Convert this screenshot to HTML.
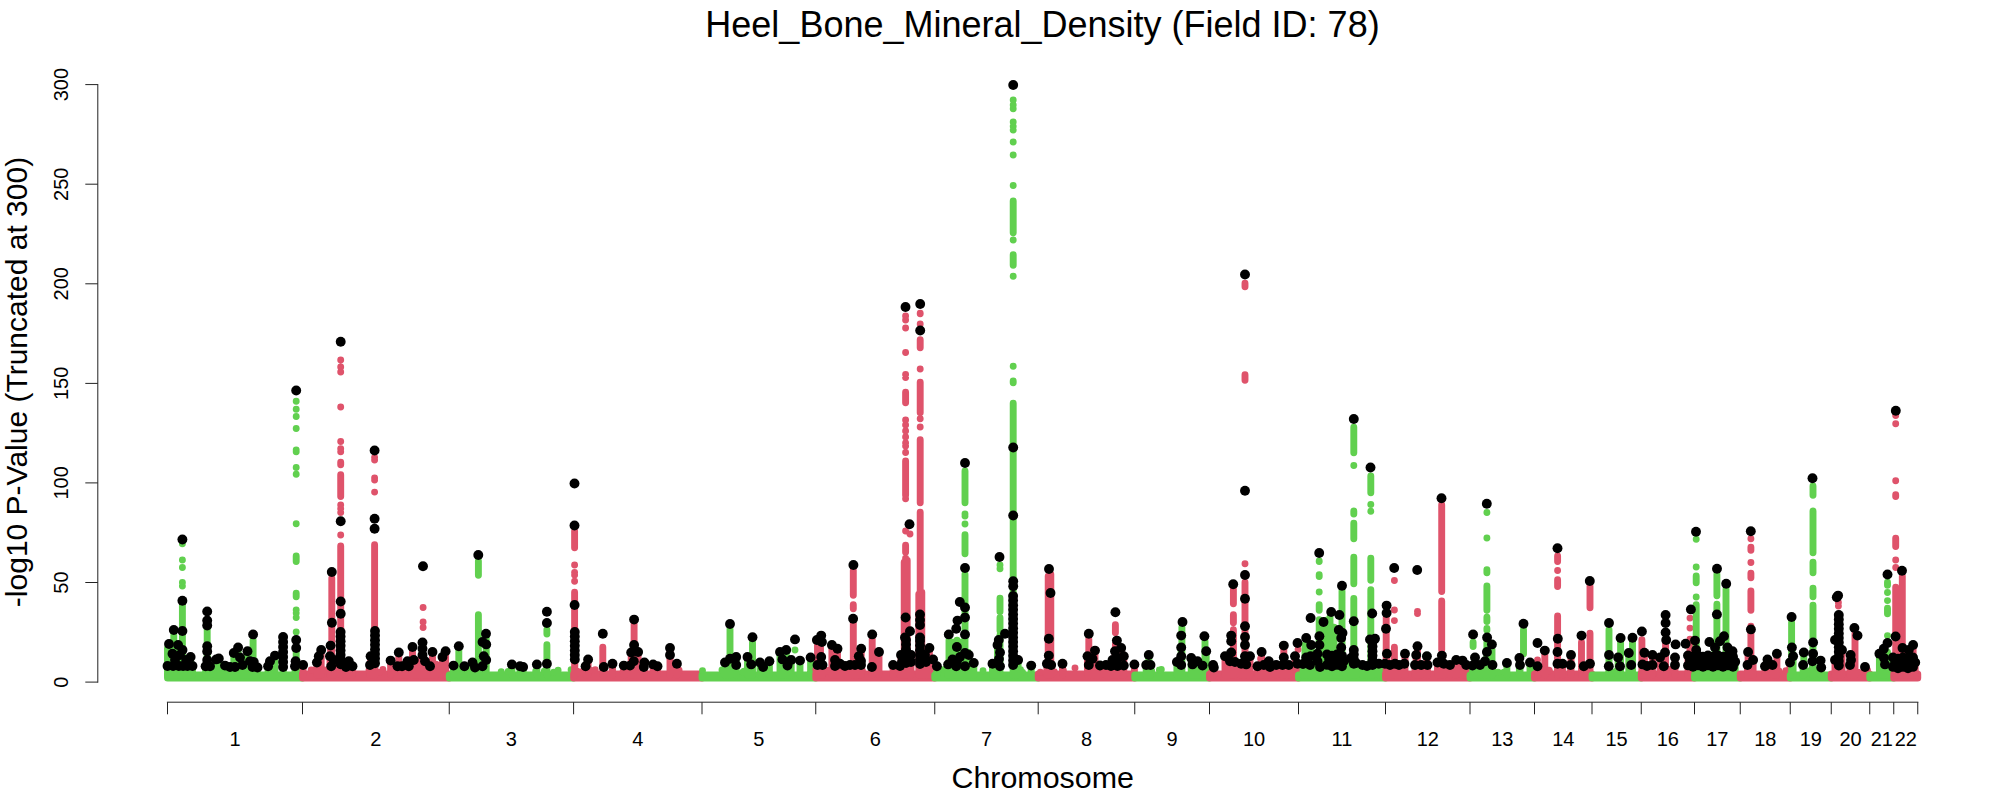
<!DOCTYPE html><html><head><meta charset="utf-8"><title>Manhattan</title>
<style>html,body{margin:0;padding:0;background:#fff}svg{display:block}text{font-family:"Liberation Sans",Arial,Helvetica,sans-serif;fill:#000}</style></head><body>
<svg width="2000" height="800" viewBox="0 0 2000 800">
<rect width="2000" height="800" fill="#fff"/>
<text x="1042.5" y="36.5" font-size="36" text-anchor="middle">Heel_Bone_Mineral_Density (Field ID: 78)</text>
<text x="1042.7" y="787.6" font-size="30.4" text-anchor="middle">Chromosome</text>
<text transform="translate(27.3,382) rotate(-90)" font-size="30" text-anchor="middle">-log10 P-Value (Truncated at 300)</text>
<g stroke="#222" stroke-width="1" fill="none" stroke-linecap="butt">
<path d="M97.8 84.0V682.7"/>
<path d="M85.3 682.1H97.8"/>
<path d="M85.3 582.5H97.8"/>
<path d="M85.3 482.9H97.8"/>
<path d="M85.3 383.4H97.8"/>
<path d="M85.3 283.8H97.8"/>
<path d="M85.3 184.2H97.8"/>
<path d="M85.3 84.6H97.8"/>
<path d="M166.90 702.2H1918.35"/>
<path d="M167.50 702.2V714.3"/>
<path d="M302.50 702.2V714.3"/>
<path d="M449.25 702.2V714.3"/>
<path d="M573.60 702.2V714.3"/>
<path d="M702.00 702.2V714.3"/>
<path d="M815.75 702.2V714.3"/>
<path d="M934.75 702.2V714.3"/>
<path d="M1038.20 702.2V714.3"/>
<path d="M1134.75 702.2V714.3"/>
<path d="M1209.50 702.2V714.3"/>
<path d="M1298.50 702.2V714.3"/>
<path d="M1385.50 702.2V714.3"/>
<path d="M1470.00 702.2V714.3"/>
<path d="M1534.50 702.2V714.3"/>
<path d="M1592.00 702.2V714.3"/>
<path d="M1641.25 702.2V714.3"/>
<path d="M1694.50 702.2V714.3"/>
<path d="M1740.25 702.2V714.3"/>
<path d="M1790.25 702.2V714.3"/>
<path d="M1831.25 702.2V714.3"/>
<path d="M1869.75 702.2V714.3"/>
<path d="M1893.75 702.2V714.3"/>
<path d="M1917.75 702.2V714.3"/>
</g>
<text transform="translate(68.0,682.1) rotate(-90)" font-size="20" text-anchor="middle">0</text>
<text transform="translate(68.0,582.5) rotate(-90)" font-size="20" text-anchor="middle">50</text>
<text transform="translate(68.0,482.9) rotate(-90)" font-size="20" text-anchor="middle">100</text>
<text transform="translate(68.0,383.4) rotate(-90)" font-size="20" text-anchor="middle">150</text>
<text transform="translate(68.0,283.8) rotate(-90)" font-size="20" text-anchor="middle">200</text>
<text transform="translate(68.0,184.2) rotate(-90)" font-size="20" text-anchor="middle">250</text>
<text transform="translate(68.0,84.6) rotate(-90)" font-size="20" text-anchor="middle">300</text>
<text x="235.00" y="745.5" font-size="20" text-anchor="middle">1</text>
<text x="375.88" y="745.5" font-size="20" text-anchor="middle">2</text>
<text x="511.43" y="745.5" font-size="20" text-anchor="middle">3</text>
<text x="637.80" y="745.5" font-size="20" text-anchor="middle">4</text>
<text x="758.88" y="745.5" font-size="20" text-anchor="middle">5</text>
<text x="875.25" y="745.5" font-size="20" text-anchor="middle">6</text>
<text x="986.48" y="745.5" font-size="20" text-anchor="middle">7</text>
<text x="1086.47" y="745.5" font-size="20" text-anchor="middle">8</text>
<text x="1172.12" y="745.5" font-size="20" text-anchor="middle">9</text>
<text x="1254.00" y="745.5" font-size="20" text-anchor="middle">10</text>
<text x="1342.00" y="745.5" font-size="20" text-anchor="middle">11</text>
<text x="1427.75" y="745.5" font-size="20" text-anchor="middle">12</text>
<text x="1502.25" y="745.5" font-size="20" text-anchor="middle">13</text>
<text x="1563.25" y="745.5" font-size="20" text-anchor="middle">14</text>
<text x="1616.62" y="745.5" font-size="20" text-anchor="middle">15</text>
<text x="1667.88" y="745.5" font-size="20" text-anchor="middle">16</text>
<text x="1717.38" y="745.5" font-size="20" text-anchor="middle">17</text>
<text x="1765.25" y="745.5" font-size="20" text-anchor="middle">18</text>
<text x="1810.75" y="745.5" font-size="20" text-anchor="middle">19</text>
<text x="1850.50" y="745.5" font-size="20" text-anchor="middle">20</text>
<text x="1881.75" y="745.5" font-size="20" text-anchor="middle">21</text>
<text x="1905.75" y="745.5" font-size="20" text-anchor="middle">22</text>
<g fill="#61D04F" stroke="#61D04F" stroke-width="6.9" stroke-linecap="round">
<rect x="164.05" y="671.4" width="141.90" height="10.2" rx="3.6" stroke="none"/>
<path fill="none" d="M167.5 648.2V675.0M173.8 635.2V675.0M182.4 543.8h0M182.4 560.0h0M182.4 567.5h0M182.4 582.5h0M182.4 586.0h0M182.4 605.2V675.0M207.2 629.2V675.0M236.0 662.2V675.0M253.1 640.2V675.0M296.2 401.2h0M296.2 409.2h0M296.2 416.5h0M296.2 428.5h0M296.2 450.0h0M296.2 451.8h0M296.2 467.5h0M296.2 474.2h0M296.2 523.8h0M296.2 556.0V561.5M296.2 593.2V596.8M296.2 610.0h0M296.2 613.0h0M296.2 617.5h0M296.2 632.0h0M296.2 653.2V657.8M178.1 646.0V675M182.5 651.0V675M172.5 654.8V675M180.0 656.0V675M190.6 658.0V675M186.2 661.0V675M175.0 661.0V675M167.5 667.0V675M173.1 667.0V675M178.8 667.0V675M183.1 667.0V675M187.5 667.0V675M192.5 667.0V675M207.2 647.2V675M207.2 652.5V675M207.2 661.0V675M205.6 667.2V675M210.0 667.2V675M218.8 659.5V675M216.2 660.4V675M225.0 666.6V675M230.0 668.0V675M235.0 668.0V675M238.1 648.5V675M233.8 654.0V675M247.5 652.2V675M240.0 658.5V675M242.5 666.0V675M250.0 662.2V675M253.8 663.0V675M252.5 668.0V675M257.5 668.5V675M268.1 667.2V675M270.0 662.2V675M275.0 656.6V675M296.2 649.0V675M295.6 662.2V675M295.0 667.2V675M283.1 648.0V675M283.1 653.0V675M283.1 658.0V675M283.1 663.0V675M283.1 668.0V675M211.2 669.8h0M255.4 669.5h0M239.8 670.5h0M175.3 670.9h0M172.6 670.7h0M176.9 669.6h0M224.8 671.9h0M184.2 670.0h0M252.2 672.3h0M245.4 670.6h0M299.3 669.4h0M283.4 670.2h0"/>
</g>
<g fill="#DF536B" stroke="#DF536B" stroke-width="6.9" stroke-linecap="round">
<rect x="299.05" y="670.5" width="153.65" height="11.1" rx="3.6" stroke="none"/>
<path fill="none" d="M331.8 578.2V675.0M340.7 360.0h0M340.7 367.0h0M340.7 372.0h0M340.7 407.0h0M340.7 441.5h0M340.7 448.8h0M340.7 451.8h0M340.7 462.2V464.8M340.7 474.7V496.6M340.7 505.0h0M340.7 508.8h0M340.7 512.5h0M340.7 535.0h0M340.7 546.0V675.0M374.6 457.5h0M374.6 460.0h0M374.6 478.0h0M374.6 480.0h0M374.6 492.1h0M374.6 544.7V675.0M423.1 607.5h0M423.1 621.9h0M423.1 627.5h0M405.0 664.2V675.0M409.0 662.2V675.0M416.0 662.2V675.0M419.0 660.2V675.0M427.0 662.2V675.0M436.0 664.2V675.0M412.5 651.2V675.0M422.5 647.2V675.0M432.5 656.2V675.0M442.5 661.2V675.0M303.1 666.0V675M330.6 646.6V675M321.2 651.0V675M318.8 657.2V675M316.9 663.5V675M330.0 657.2V675M333.8 661.0V675M331.2 667.2V675M348.8 662.2V675M352.5 667.2V675M346.0 668.0V675M370.6 657.2V675M370.0 666.0V675M398.8 653.5V675M390.6 661.6V675M397.5 667.2V675M412.5 648.0V675M422.5 649.8V675M422.5 656.0V675M432.5 653.0V675M407.5 662.2V675M413.8 661.0V675M425.0 662.2V675M430.0 667.2V675M402.0 667.2V675M408.8 667.2V675M445.6 652.2V675M442.5 658.0V675M340.6 646.8V675M340.6 651.4V675M340.6 656.0V675M340.6 660.6V675M340.6 665.2V675M375.0 650.4V675M375.0 655.0V675M375.0 659.6V675M375.0 664.2V675M323.7 669.7h0M347.8 671.9h0M329.0 671.2h0M396.3 670.5h0M382.9 669.5h0M311.2 670.0h0M402.3 670.7h0M348.6 671.2h0M369.0 670.3h0M419.1 671.5h0M338.3 671.1h0M379.6 672.1h0M409.5 670.2h0"/>
</g>
<g fill="#61D04F" stroke="#61D04F" stroke-width="6.9" stroke-linecap="round">
<rect x="445.80" y="671.4" width="131.25" height="10.2" rx="3.6" stroke="none"/>
<path fill="none" d="M458.8 651.2V675.0M478.4 561.0V575.3M478.4 614.7V675.0M486.2 638.2V675.0M546.9 629.7V634.0M546.9 644.7V660.3M458.8 647.2V675M453.5 666.6V675M464.4 667.2V675M472.5 663.5V675M475.0 668.5V675M482.5 667.2V675M483.8 657.2V675M486.2 661.0V675M511.9 665.4V675M520.0 667.2V675M523.1 668.0V675M536.9 665.4V675M546.9 664.8V675M571.1 669.7h0M501.2 671.7h0M468.1 670.9h0M454.1 671.4h0M544.3 671.1h0M558.1 670.3h0M535.7 671.2h0M521.4 670.8h0M553.7 672.3h0M508.2 671.4h0M456.8 671.5h0"/>
</g>
<g fill="#DF536B" stroke="#DF536B" stroke-width="6.9" stroke-linecap="round">
<rect x="570.15" y="670.5" width="135.30" height="11.1" rx="3.6" stroke="none"/>
<path fill="none" d="M574.6 531.0V547.8M574.6 565.0h0M574.6 572.5h0M574.6 575.0h0M574.6 581.2h0M574.6 592.2V675.0M602.8 647.2V675.0M634.1 624.2V675.0M670.0 659.2V675.0M588.1 660.4V675M585.6 667.2V675M603.8 668.0V675M612.5 664.8V675M623.8 666.6V675M634.1 646.0V675M631.2 653.5V675M638.1 653.0V675M633.8 662.2V675M644.4 663.5V675M643.8 668.0V675M630.0 666.6V675M653.1 665.4V675M657.5 667.2V675M670.0 649.0V675M670.0 656.0V675M676.9 664.8V675M574.8 646.8V675M574.8 651.4V675M574.8 656.0V675M574.8 660.6V675M656.7 672.5h0M679.1 670.2h0M623.1 671.4h0M576.5 670.8h0M595.2 669.7h0M581.2 671.8h0M590.2 670.1h0M623.8 672.1h0M583.9 670.7h0M644.1 672.1h0M678.8 672.1h0"/>
</g>
<g fill="#61D04F" stroke="#61D04F" stroke-width="6.9" stroke-linecap="round">
<rect x="698.55" y="671.4" width="120.65" height="10.2" rx="3.6" stroke="none"/>
<path fill="none" d="M730.0 629.2V675.0M752.5 642.2V675.0M780.0 657.2V675.0M786.0 655.2V675.0M795.0 650.0h0M725.0 663.5V675M730.0 659.8V675M736.2 658.0V675M736.2 666.0V675M747.5 658.0V675M751.2 665.4V675M760.0 663.5V675M763.1 668.0V675M769.4 662.2V675M780.0 653.0V675M786.2 651.0V675M782.5 660.4V675M787.5 666.6V675M791.2 661.0V675M800.0 661.6V675M810.6 658.5V675M733.7 670.6h0M742.8 672.1h0M810.9 669.8h0M722.0 670.0h0M728.5 670.9h0M769.0 670.1h0M702.5 670.6h0M744.0 671.1h0M810.4 671.5h0M760.6 671.3h0"/>
</g>
<g fill="#DF536B" stroke="#DF536B" stroke-width="6.9" stroke-linecap="round">
<rect x="812.30" y="670.5" width="125.90" height="11.1" rx="3.6" stroke="none"/>
<path fill="none" d="M817.5 645.2V675.0M820.5 642.2V675.0M832.0 650.2V675.0M837.5 653.2V675.0M853.3 570.2V595.3M853.3 604.7V608.8M853.3 623.2V675.0M861.0 653.2V675.0M872.2 639.2V675.0M879.0 656.2V675.0M905.6 316.0h0M905.6 320.0h0M905.6 328.0h0M905.6 352.5h0M905.6 374.5h0M905.6 377.5h0M905.6 392.2V402.8M905.6 420.0h0M905.6 425.0h0M905.6 431.0h0M905.6 437.0h0M905.6 443.0h0M905.6 446.0h0M905.6 452.5h0M905.6 460.9V495.3M905.6 498.8h0M905.6 531.0h0M905.6 545.2V552.3M905.6 558.2V675.0M910.0 534.0h0M904.2 562.2V675.0M907.2 560.2V675.0M920.2 313.2V313.8M920.2 324.0h0M920.2 339.7V347.8M920.2 369.0h0M920.2 382.2V412.8M920.2 418.8h0M920.2 427.0h0M920.2 439.7V502.8M920.2 512.2V675.0M918.8 594.2V675.0M921.8 592.2V675.0M831.9 646.0V675M837.5 649.8V675M821.2 658.0V675M817.5 666.0V675M822.5 666.0V675M835.0 661.0V675M840.0 664.8V675M835.0 667.0V675M845.0 667.0V675M850.0 666.0V675M855.0 666.0V675M861.0 666.0V675M861.2 649.8V675M858.8 657.2V675M861.0 662.0V675M879.0 653.0V675M871.9 668.0V675M893.1 666.0V675M900.0 667.0V675M901.0 656.0V675M902.0 663.0V675M911.0 656.0V675M911.0 663.0V675M929.4 649.0V675M933.1 660.4V675M925.0 656.0V675M926.0 663.0V675M906.0 650.2V675M906.0 654.8V675M906.0 659.4V675M906.0 664.0V675M920.0 646.6V675M920.0 651.2V675M920.0 655.8V675M920.0 660.4V675M920.0 665.0V675M896.2 669.5h0M922.8 671.8h0M919.8 671.9h0M862.4 670.6h0M828.1 671.3h0M823.2 669.5h0M840.6 669.8h0M856.2 669.5h0M815.8 669.8h0M827.8 670.5h0"/>
</g>
<g fill="#61D04F" stroke="#61D04F" stroke-width="6.9" stroke-linecap="round">
<rect x="931.30" y="671.4" width="110.35" height="10.2" rx="3.6" stroke="none"/>
<path fill="none" d="M949.0 640.2V675.0M953.0 642.2V675.0M957.0 640.2V675.0M961.0 642.2V675.0M968.0 652.2V675.0M965.0 470.9V502.8M965.0 514.0h0M965.0 516.0h0M965.0 524.0h0M965.0 534.7V553.8M965.0 574.2V675.0M1000.0 565.0h0M1000.0 568.8h0M1000.0 598.2V611.8M1000.0 617.7V630.8M1000.0 635.2V675.0M1013.2 100.0h0M1013.2 105.0h0M1013.2 108.8h0M1013.2 122.0h0M1013.2 126.2h0M1013.2 130.0h0M1013.2 142.0h0M1013.2 155.0h0M1013.2 185.5h0M1013.2 200.9V232.8M1013.2 240.0h0M1013.2 254.7V265.3M1013.2 276.2h0M1013.2 366.2h0M1013.2 380.9V382.8M1013.2 403.2V675.0M936.9 667.2V675M956.9 648.0V675M965.0 654.0V675M968.8 656.0V675M952.5 660.4V675M948.1 665.4V675M956.2 667.2V675M965.0 667.2V675M973.8 664.0V675M960.0 658.0V675M957.0 662.0V675M997.5 646.0V675M1000.0 653.5V675M992.5 664.8V675M1000.0 667.2V675M999.0 660.0V675M1018.1 661.0V675M1031.2 666.6V675M1013.1 647.6V675M1013.1 652.2V675M1013.1 656.8V675M1013.1 661.4V675M1013.1 666.0V675M937.4 672.1h0M998.3 669.8h0M960.8 670.4h0M972.4 669.7h0M1022.6 672.5h0M983.0 670.8h0M943.6 669.6h0M970.2 670.1h0M1020.5 669.8h0"/>
</g>
<g fill="#DF536B" stroke="#DF536B" stroke-width="6.9" stroke-linecap="round">
<rect x="1034.75" y="670.5" width="103.45" height="11.1" rx="3.6" stroke="none"/>
<path fill="none" d="M1048.2 576.2V675.0M1050.8 574.2V675.0M1088.8 639.2V675.0M1115.4 624.7V632.8M1115.4 644.2V675.0M1075.0 668.0h0M1048.8 656.6V675M1046.9 664.8V675M1051.2 666.0V675M1062.5 664.8V675M1095.0 651.6V675M1087.5 657.2V675M1092.5 659.8V675M1088.8 666.0V675M1121.2 649.0V675M1115.0 652.2V675M1123.8 657.2V675M1112.5 661.0V675M1100.0 666.5V675M1106.0 666.0V675M1111.0 667.0V675M1117.5 667.0V675M1123.8 666.5V675M1118.0 659.0V675M1134.4 665.4V675M1040.4 672.3h0M1089.2 669.8h0M1090.6 669.4h0M1089.2 672.4h0M1121.6 671.5h0M1063.4 670.5h0M1054.3 671.8h0M1089.6 671.8h0"/>
</g>
<g fill="#61D04F" stroke="#61D04F" stroke-width="6.9" stroke-linecap="round">
<rect x="1131.30" y="671.4" width="81.65" height="10.2" rx="3.6" stroke="none"/>
<path fill="none" d="M1181.9 627.2V675.0M1205.0 641.2V660.3M1148.8 656.0V675M1146.2 666.0V675M1150.5 666.0V675M1181.2 648.5V675M1181.2 657.2V675M1176.9 663.0V675M1181.2 666.0V675M1191.2 659.0V675M1192.5 665.4V675M1197.5 662.2V675M1202.5 666.6V675M1206.2 652.2V675M1159.4 670.0h0M1195.4 672.5h0M1198.5 671.9h0M1195.9 671.7h0M1151.7 671.0h0M1161.3 669.4h0"/>
</g>
<g fill="#DF536B" stroke="#DF536B" stroke-width="6.9" stroke-linecap="round">
<rect x="1206.05" y="670.5" width="95.90" height="11.1" rx="3.6" stroke="none"/>
<path fill="none" d="M1233.4 589.2V603.8M1233.4 614.7V622.8M1233.4 629.7V675.0M1245.0 283.2V286.8M1245.0 374.7V380.3M1245.0 563.8h0M1245.0 582.2V675.0M1283.8 651.2V675.0M1260.6 658.8h0M1298.1 649.4h0M1213.1 666.0V675M1213.8 668.5V675M1225.0 657.2V675M1231.2 653.5V675M1230.0 662.2V675M1235.0 663.0V675M1245.0 646.0V675M1245.0 657.2V675M1250.0 657.2V675M1241.2 664.8V675M1246.2 665.4V675M1261.6 653.0V675M1257.5 667.2V675M1263.8 666.0V675M1268.8 662.2V675M1270.0 668.0V675M1276.2 666.0V675M1283.8 646.6V675M1283.8 658.5V675M1282.5 666.0V675M1288.8 666.0V675M1295.0 657.2V675M1297.5 664.8V675M1212.0 670.2h0M1232.6 671.5h0M1294.6 670.7h0M1292.9 672.5h0M1294.5 670.5h0M1229.1 670.0h0M1227.0 670.0h0M1265.0 672.2h0"/>
</g>
<g fill="#61D04F" stroke="#61D04F" stroke-width="6.9" stroke-linecap="round">
<rect x="1295.05" y="671.4" width="93.90" height="10.2" rx="3.6" stroke="none"/>
<path fill="none" d="M1305.0 644.7V675.0M1319.2 561.0V561.5M1319.2 574.7V576.5M1319.2 592.0h0M1319.2 604.7V610.3M1319.2 619.7V675.0M1330.0 617.2V675.0M1323.0 622.2V675.0M1326.5 620.2V675.0M1334.0 627.2V675.0M1342.0 591.0V675.0M1353.8 427.2V452.8M1353.8 465.5h0M1353.8 510.9V514.0M1353.8 523.2V538.8M1353.8 557.2V583.8M1353.8 598.5V675.0M1370.8 475.9V492.8M1370.8 504.5h0M1370.8 511.2h0M1370.8 558.2V580.3M1370.8 589.7V675.0M1311.2 646.0V675M1306.2 658.5V675M1310.6 657.2V675M1310.0 666.0V675M1303.0 665.0V675M1319.4 646.0V675M1317.5 654.8V675M1317.5 662.2V675M1320.0 668.0V675M1341.2 648.5V675M1351.0 659.0V675M1356.0 664.0V675M1362.5 666.0V675M1367.0 667.0V675M1378.8 664.8V675M1385.0 664.8V675M1353.8 651.0V675M1353.8 655.6V675M1353.8 660.2V675M1353.8 664.8V675M1372.5 647.6V675M1372.5 652.2V675M1372.5 656.8V675M1372.5 661.4V675M1372.5 666.0V675M1327.0 655.4V675M1329.2 660.4V675M1327.0 665.9V675M1332.0 656.8V675M1334.2 661.8V675M1332.0 667.3V675M1337.0 655.4V675M1339.2 660.4V675M1337.0 665.9V675M1342.0 656.8V675M1344.2 661.8V675M1342.0 667.3V675M1371.6 670.8h0M1355.3 671.9h0M1305.9 671.4h0M1377.7 671.8h0M1363.8 670.8h0M1314.0 671.8h0M1327.4 671.9h0"/>
</g>
<g fill="#DF536B" stroke="#DF536B" stroke-width="6.9" stroke-linecap="round">
<rect x="1382.05" y="670.5" width="91.40" height="11.1" rx="3.6" stroke="none"/>
<path fill="none" d="M1386.2 617.2V675.0M1394.4 580.5h0M1394.4 610.0h0M1394.4 620.6h0M1394.4 647.2V675.0M1417.5 611.5h0M1417.5 613.5h0M1441.7 504.7V591.5M1441.7 601.0V649.8M1386.9 654.8V675M1390.0 666.0V675M1395.0 664.8V675M1399.0 666.0V675M1405.0 654.8V675M1404.4 664.8V675M1417.5 647.2V675M1416.2 656.0V675M1426.9 657.2V675M1415.0 666.0V675M1421.2 666.0V675M1427.5 666.0V675M1441.9 656.6V675M1437.5 663.5V675M1443.8 664.8V675M1450.0 666.0V675M1456.2 661.0V675M1462.5 661.6V675M1466.2 666.0V675M1467.6 670.6h0M1419.4 672.3h0M1446.7 669.8h0M1396.2 669.8h0M1462.0 671.9h0M1397.9 671.9h0M1468.3 671.4h0"/>
</g>
<g fill="#61D04F" stroke="#61D04F" stroke-width="6.9" stroke-linecap="round">
<rect x="1466.55" y="671.4" width="71.40" height="10.2" rx="3.6" stroke="none"/>
<path fill="none" d="M1473.1 642.2V646.5M1486.9 512.5h0M1486.9 538.0h0M1486.9 569.7V572.8M1486.9 586.0V610.3M1486.9 617.2V621.5M1486.9 628.5V630.3M1486.9 642.2V675.0M1492.0 649.7V675.0M1523.5 629.7V653.8M1475.0 658.5V675M1472.5 666.6V675M1486.9 653.0V675M1485.0 662.2V675M1492.5 666.0V675M1480.0 666.0V675M1506.9 664.0V675M1519.4 659.0V675M1520.0 666.0V675M1530.0 663.5V675M1492.6 671.1h0M1478.4 669.3h0M1532.6 671.4h0M1504.0 672.3h0M1498.0 672.1h0"/>
</g>
<g fill="#DF536B" stroke="#DF536B" stroke-width="6.9" stroke-linecap="round">
<rect x="1531.05" y="670.5" width="64.40" height="11.1" rx="3.6" stroke="none"/>
<path fill="none" d="M1544.8 656.2V675.0M1557.6 556.0V561.5M1557.6 570.5h0M1557.6 579.7V586.5M1557.6 616.0V675.0M1581.5 642.2V675.0M1590.0 586.2V607.8M1590.0 633.2V675.0M1537.5 660.0h0M1544.8 651.6V675M1537.5 667.2V675M1557.5 653.0V675M1557.5 664.8V675M1562.5 664.8V675M1571.0 656.0V675M1570.6 666.0V675M1583.8 667.2V675M1590.0 664.8V675M1582.0 670.0h0M1549.0 670.2h0M1548.3 671.2h0M1549.4 670.6h0M1542.0 672.2h0"/>
</g>
<g fill="#61D04F" stroke="#61D04F" stroke-width="6.9" stroke-linecap="round">
<rect x="1588.55" y="671.4" width="56.15" height="10.2" rx="3.6" stroke="none"/>
<path fill="none" d="M1609.0 629.7V675.0M1620.6 642.2V675.0M1632.5 642.2V675.0M1609.0 656.0V675M1608.8 667.2V675M1618.1 658.5V675M1620.0 667.2V675M1628.8 654.0V675M1631.2 666.0V675M1609.4 670.8h0M1620.7 672.2h0M1612.7 672.2h0M1616.7 671.0h0"/>
</g>
<g fill="#DF536B" stroke="#DF536B" stroke-width="6.9" stroke-linecap="round">
<rect x="1637.80" y="670.5" width="60.15" height="11.1" rx="3.6" stroke="none"/>
<path fill="none" d="M1641.9 639.7V675.0M1665.6 642.2V675.0M1690.0 618.1h0M1690.0 628.1h0M1690.0 639.2V675.0M1644.4 653.8V675M1642.5 665.4V675M1652.5 656.0V675M1652.5 666.0V675M1665.0 653.5V675M1675.0 658.5V675M1660.0 658.5V675M1663.8 667.2V675M1675.0 666.0V675M1647.0 667.0V675M1690.0 659.8V675M1688.0 656.4V675M1690.2 661.4V675M1688.0 666.4V675M1693.0 657.8V675M1693.0 667.8V675M1669.1 669.4h0M1664.7 669.9h0M1641.5 671.9h0M1650.4 670.8h0"/>
</g>
<g fill="#61D04F" stroke="#61D04F" stroke-width="6.9" stroke-linecap="round">
<rect x="1691.05" y="671.4" width="52.65" height="10.2" rx="3.6" stroke="none"/>
<path fill="none" d="M1696.2 539.2h0M1696.2 567.0h0M1696.2 576.0V582.8M1696.2 597.0h0M1696.2 604.7V675.0M1716.9 574.2V595.8M1716.9 604.2V675.0M1726.0 589.2V675.0M1696.2 651.0V675M1715.0 648.5V675M1727.5 648.5V675M1732.5 652.2V675M1695.2 662.8V675M1698.0 656.4V675M1700.2 661.4V675M1698.0 666.4V675M1703.0 657.8V675M1705.2 662.8V675M1703.0 667.8V675M1708.0 656.4V675M1710.2 661.4V675M1708.0 666.4V675M1713.0 657.8V675M1715.2 662.8V675M1713.0 667.8V675M1718.0 656.4V675M1720.2 661.4V675M1718.0 666.4V675M1723.0 657.8V675M1725.2 662.8V675M1723.0 667.8V675M1728.0 656.4V675M1730.2 661.4V675M1728.0 666.4V675M1733.0 657.8V675M1735.2 662.8V675M1733.0 667.8V675M1727.7 671.1h0M1709.4 671.0h0M1719.9 671.8h0M1699.4 671.1h0"/>
</g>
<g fill="#DF536B" stroke="#DF536B" stroke-width="6.9" stroke-linecap="round">
<rect x="1736.80" y="670.5" width="56.90" height="11.1" rx="3.6" stroke="none"/>
<path fill="none" d="M1750.9 538.8h0M1750.9 547.2V550.3M1750.9 562.5h0M1750.9 573.2V577.8M1750.9 591.0V610.3M1750.9 626.2V675.0M1748.1 653.0V675M1753.1 661.0V675M1747.5 666.0V675M1767.5 660.4V675M1765.0 667.2V675M1772.5 666.0V675M1776.9 654.8V675M1790.0 663.5V675M1752.7 670.2h0M1778.9 670.9h0M1768.3 671.7h0M1785.9 670.7h0"/>
</g>
<g fill="#61D04F" stroke="#61D04F" stroke-width="6.9" stroke-linecap="round">
<rect x="1786.80" y="671.4" width="47.90" height="10.2" rx="3.6" stroke="none"/>
<path fill="none" d="M1791.6 622.2V675.0M1813.0 485.9V495.3M1813.0 510.9V552.8M1813.0 562.2V572.8M1813.0 588.2V596.8M1813.0 605.2V675.0M1791.9 648.5V675M1793.1 657.2V675M1803.8 653.5V675M1803.1 666.0V675M1813.1 654.8V675M1812.5 662.2V675M1820.6 661.6V675M1821.2 668.5V675M1815.4 670.9h0M1811.2 671.5h0M1808.8 671.0h0"/>
</g>
<g fill="#DF536B" stroke="#DF536B" stroke-width="6.9" stroke-linecap="round">
<rect x="1827.80" y="670.5" width="45.40" height="11.1" rx="3.6" stroke="none"/>
<path fill="none" d="M1838.4 602.5h0M1838.4 606.0h0M1838.4 617.2V675.0M1855.0 633.2V675.0M1835.0 661.0V675M1842.0 651.0V675M1850.6 656.0V675M1850.0 666.0V675M1851.0 661.0V675M1865.0 668.0V675M1838.8 648.2V675M1838.8 652.8V675M1838.8 657.4V675M1838.8 662.0V675M1838.8 666.6V675M1849.7 672.3h0M1858.2 672.1h0M1867.5 670.1h0"/>
</g>
<g fill="#61D04F" stroke="#61D04F" stroke-width="6.9" stroke-linecap="round">
<rect x="1866.30" y="671.4" width="30.90" height="10.2" rx="3.6" stroke="none"/>
<path fill="none" d="M1887.5 582.2V585.3M1887.5 592.5h0M1887.5 600.6h0M1887.5 608.2V613.8M1887.5 635.6h0M1887.5 652.2V675.0M1882.0 659.2V675.0M1883.8 649.8V675M1879.4 654.8V675M1885.0 665.4V675M1884.0 659.0V675M1893.0 658.4V675M1893.0 667.9V675M1883.2 672.3h0M1889.9 669.7h0"/>
</g>
<g fill="#DF536B" stroke="#DF536B" stroke-width="6.9" stroke-linecap="round">
<rect x="1890.30" y="670.5" width="30.90" height="11.1" rx="3.6" stroke="none"/>
<path fill="none" d="M1895.7 415.5h0M1895.7 423.8h0M1895.7 480.8h0M1895.7 494.7V496.6M1895.7 538.2V546.5M1895.7 560.0h0M1895.7 567.5h0M1895.7 587.2V675.0M1902.3 576.2V675.0M1912.0 654.2V675.0M1902.5 649.0V675M1913.1 646.0V675M1908.8 651.0V675M1895.2 663.4V675M1898.0 659.8V675M1900.2 664.8V675M1898.0 669.3V675M1903.0 658.4V675M1905.2 663.4V675M1903.0 667.9V675M1908.0 659.8V675M1910.2 664.8V675M1908.0 669.3V675M1913.0 658.4V675M1915.2 663.4V675M1913.0 667.9V675M1896.7 670.7h0M1895.5 670.1h0"/>
</g>
<g fill="#000">
<circle cx="182.4" cy="539.5" r="4.95"/>
<circle cx="182.4" cy="600.8" r="4.95"/>
<circle cx="173.8" cy="630.0" r="4.95"/>
<circle cx="182.4" cy="631.0" r="4.95"/>
<circle cx="169.0" cy="644.0" r="4.95"/>
<circle cx="178.1" cy="645.0" r="4.95"/>
<circle cx="182.5" cy="650.0" r="4.95"/>
<circle cx="172.5" cy="653.8" r="4.95"/>
<circle cx="180.0" cy="655.0" r="4.95"/>
<circle cx="190.6" cy="657.0" r="4.95"/>
<circle cx="186.2" cy="660.0" r="4.95"/>
<circle cx="175.0" cy="660.0" r="4.95"/>
<circle cx="167.5" cy="666.0" r="4.95"/>
<circle cx="173.1" cy="666.0" r="4.95"/>
<circle cx="178.8" cy="666.0" r="4.95"/>
<circle cx="183.1" cy="666.0" r="4.95"/>
<circle cx="187.5" cy="666.0" r="4.95"/>
<circle cx="192.5" cy="666.0" r="4.95"/>
<circle cx="207.2" cy="611.5" r="4.95"/>
<circle cx="207.2" cy="620.5" r="4.95"/>
<circle cx="207.2" cy="625.5" r="4.95"/>
<circle cx="207.2" cy="646.2" r="4.95"/>
<circle cx="207.2" cy="651.5" r="4.95"/>
<circle cx="207.2" cy="660.0" r="4.95"/>
<circle cx="205.6" cy="666.2" r="4.95"/>
<circle cx="210.0" cy="666.2" r="4.95"/>
<circle cx="218.8" cy="658.5" r="4.95"/>
<circle cx="216.2" cy="659.4" r="4.95"/>
<circle cx="225.0" cy="665.6" r="4.95"/>
<circle cx="230.0" cy="667.0" r="4.95"/>
<circle cx="235.0" cy="667.0" r="4.95"/>
<circle cx="238.1" cy="647.5" r="4.95"/>
<circle cx="233.8" cy="653.0" r="4.95"/>
<circle cx="247.5" cy="651.2" r="4.95"/>
<circle cx="240.0" cy="657.5" r="4.95"/>
<circle cx="242.5" cy="665.0" r="4.95"/>
<circle cx="250.0" cy="661.2" r="4.95"/>
<circle cx="253.8" cy="662.0" r="4.95"/>
<circle cx="252.5" cy="667.0" r="4.95"/>
<circle cx="257.5" cy="667.5" r="4.95"/>
<circle cx="253.1" cy="634.4" r="4.95"/>
<circle cx="268.1" cy="666.2" r="4.95"/>
<circle cx="270.0" cy="661.2" r="4.95"/>
<circle cx="275.0" cy="655.6" r="4.95"/>
<circle cx="296.2" cy="390.5" r="4.95"/>
<circle cx="296.2" cy="640.0" r="4.95"/>
<circle cx="296.2" cy="648.0" r="4.95"/>
<circle cx="295.6" cy="661.2" r="4.95"/>
<circle cx="295.0" cy="666.2" r="4.95"/>
<circle cx="303.1" cy="665.0" r="4.95"/>
<circle cx="331.8" cy="572.0" r="4.95"/>
<circle cx="340.7" cy="341.8" r="4.95"/>
<circle cx="340.7" cy="521.2" r="4.95"/>
<circle cx="340.7" cy="601.5" r="4.95"/>
<circle cx="340.7" cy="613.8" r="4.95"/>
<circle cx="331.9" cy="622.8" r="4.95"/>
<circle cx="330.6" cy="645.6" r="4.95"/>
<circle cx="321.2" cy="650.0" r="4.95"/>
<circle cx="318.8" cy="656.2" r="4.95"/>
<circle cx="316.9" cy="662.5" r="4.95"/>
<circle cx="330.0" cy="656.2" r="4.95"/>
<circle cx="333.8" cy="660.0" r="4.95"/>
<circle cx="331.2" cy="666.2" r="4.95"/>
<circle cx="348.8" cy="661.2" r="4.95"/>
<circle cx="352.5" cy="666.2" r="4.95"/>
<circle cx="346.0" cy="667.0" r="4.95"/>
<circle cx="374.6" cy="450.5" r="4.95"/>
<circle cx="374.6" cy="518.8" r="4.95"/>
<circle cx="374.6" cy="528.8" r="4.95"/>
<circle cx="370.6" cy="656.2" r="4.95"/>
<circle cx="370.0" cy="665.0" r="4.95"/>
<circle cx="398.8" cy="652.5" r="4.95"/>
<circle cx="390.6" cy="660.6" r="4.95"/>
<circle cx="397.5" cy="666.2" r="4.95"/>
<circle cx="423.0" cy="566.2" r="4.95"/>
<circle cx="412.5" cy="647.0" r="4.95"/>
<circle cx="422.5" cy="642.5" r="4.95"/>
<circle cx="422.5" cy="648.8" r="4.95"/>
<circle cx="422.5" cy="655.0" r="4.95"/>
<circle cx="432.5" cy="652.0" r="4.95"/>
<circle cx="407.5" cy="661.2" r="4.95"/>
<circle cx="413.8" cy="660.0" r="4.95"/>
<circle cx="425.0" cy="661.2" r="4.95"/>
<circle cx="430.0" cy="666.2" r="4.95"/>
<circle cx="402.0" cy="666.2" r="4.95"/>
<circle cx="408.8" cy="666.2" r="4.95"/>
<circle cx="445.6" cy="651.2" r="4.95"/>
<circle cx="442.5" cy="657.0" r="4.95"/>
<circle cx="458.8" cy="646.2" r="4.95"/>
<circle cx="453.5" cy="665.6" r="4.95"/>
<circle cx="464.4" cy="666.2" r="4.95"/>
<circle cx="472.5" cy="662.5" r="4.95"/>
<circle cx="475.0" cy="667.5" r="4.95"/>
<circle cx="482.5" cy="666.2" r="4.95"/>
<circle cx="478.3" cy="555.0" r="4.95"/>
<circle cx="486.0" cy="633.8" r="4.95"/>
<circle cx="482.5" cy="642.0" r="4.95"/>
<circle cx="486.2" cy="644.4" r="4.95"/>
<circle cx="483.8" cy="656.2" r="4.95"/>
<circle cx="486.2" cy="660.0" r="4.95"/>
<circle cx="511.9" cy="664.4" r="4.95"/>
<circle cx="520.0" cy="666.2" r="4.95"/>
<circle cx="523.1" cy="667.0" r="4.95"/>
<circle cx="536.9" cy="664.4" r="4.95"/>
<circle cx="546.9" cy="611.8" r="4.95"/>
<circle cx="546.9" cy="623.0" r="4.95"/>
<circle cx="546.9" cy="663.8" r="4.95"/>
<circle cx="574.5" cy="483.5" r="4.95"/>
<circle cx="574.5" cy="525.5" r="4.95"/>
<circle cx="574.6" cy="605.0" r="4.95"/>
<circle cx="588.1" cy="659.4" r="4.95"/>
<circle cx="585.6" cy="666.2" r="4.95"/>
<circle cx="602.8" cy="633.8" r="4.95"/>
<circle cx="603.8" cy="667.0" r="4.95"/>
<circle cx="612.5" cy="663.8" r="4.95"/>
<circle cx="623.8" cy="665.6" r="4.95"/>
<circle cx="634.1" cy="619.6" r="4.95"/>
<circle cx="634.1" cy="645.0" r="4.95"/>
<circle cx="631.2" cy="652.5" r="4.95"/>
<circle cx="638.1" cy="652.0" r="4.95"/>
<circle cx="633.8" cy="661.2" r="4.95"/>
<circle cx="644.4" cy="662.5" r="4.95"/>
<circle cx="643.8" cy="667.0" r="4.95"/>
<circle cx="630.0" cy="665.6" r="4.95"/>
<circle cx="653.1" cy="664.4" r="4.95"/>
<circle cx="657.5" cy="666.2" r="4.95"/>
<circle cx="670.0" cy="648.0" r="4.95"/>
<circle cx="670.0" cy="655.0" r="4.95"/>
<circle cx="676.9" cy="663.8" r="4.95"/>
<circle cx="730.0" cy="624.0" r="4.95"/>
<circle cx="752.5" cy="637.2" r="4.95"/>
<circle cx="725.0" cy="662.5" r="4.95"/>
<circle cx="730.0" cy="658.8" r="4.95"/>
<circle cx="736.2" cy="657.0" r="4.95"/>
<circle cx="736.2" cy="665.0" r="4.95"/>
<circle cx="747.5" cy="657.0" r="4.95"/>
<circle cx="751.2" cy="664.4" r="4.95"/>
<circle cx="760.0" cy="662.5" r="4.95"/>
<circle cx="763.1" cy="667.0" r="4.95"/>
<circle cx="769.4" cy="661.2" r="4.95"/>
<circle cx="780.0" cy="652.0" r="4.95"/>
<circle cx="786.2" cy="650.0" r="4.95"/>
<circle cx="782.5" cy="659.4" r="4.95"/>
<circle cx="787.5" cy="665.6" r="4.95"/>
<circle cx="795.0" cy="639.4" r="4.95"/>
<circle cx="791.2" cy="660.0" r="4.95"/>
<circle cx="800.0" cy="660.6" r="4.95"/>
<circle cx="810.6" cy="657.5" r="4.95"/>
<circle cx="821.2" cy="635.6" r="4.95"/>
<circle cx="816.9" cy="640.0" r="4.95"/>
<circle cx="821.9" cy="642.0" r="4.95"/>
<circle cx="831.9" cy="645.0" r="4.95"/>
<circle cx="837.5" cy="648.8" r="4.95"/>
<circle cx="821.2" cy="657.0" r="4.95"/>
<circle cx="817.5" cy="665.0" r="4.95"/>
<circle cx="822.5" cy="665.0" r="4.95"/>
<circle cx="835.0" cy="660.0" r="4.95"/>
<circle cx="840.0" cy="663.8" r="4.95"/>
<circle cx="835.0" cy="666.0" r="4.95"/>
<circle cx="845.0" cy="666.0" r="4.95"/>
<circle cx="850.0" cy="665.0" r="4.95"/>
<circle cx="855.0" cy="665.0" r="4.95"/>
<circle cx="861.0" cy="665.0" r="4.95"/>
<circle cx="853.4" cy="565.0" r="4.95"/>
<circle cx="853.1" cy="618.8" r="4.95"/>
<circle cx="861.2" cy="648.8" r="4.95"/>
<circle cx="858.8" cy="656.2" r="4.95"/>
<circle cx="861.0" cy="661.0" r="4.95"/>
<circle cx="872.2" cy="634.4" r="4.95"/>
<circle cx="879.0" cy="652.0" r="4.95"/>
<circle cx="871.9" cy="667.0" r="4.95"/>
<circle cx="893.1" cy="665.0" r="4.95"/>
<circle cx="900.0" cy="666.0" r="4.95"/>
<circle cx="905.5" cy="307.0" r="4.95"/>
<circle cx="909.5" cy="524.2" r="4.95"/>
<circle cx="905.6" cy="617.5" r="4.95"/>
<circle cx="910.0" cy="631.2" r="4.95"/>
<circle cx="905.0" cy="637.5" r="4.95"/>
<circle cx="901.0" cy="655.0" r="4.95"/>
<circle cx="902.0" cy="662.0" r="4.95"/>
<circle cx="911.0" cy="655.0" r="4.95"/>
<circle cx="911.0" cy="662.0" r="4.95"/>
<circle cx="920.2" cy="304.0" r="4.95"/>
<circle cx="920.2" cy="330.5" r="4.95"/>
<circle cx="920.0" cy="614.4" r="4.95"/>
<circle cx="920.0" cy="620.0" r="4.95"/>
<circle cx="920.0" cy="625.0" r="4.95"/>
<circle cx="920.0" cy="637.5" r="4.95"/>
<circle cx="929.4" cy="648.0" r="4.95"/>
<circle cx="933.1" cy="659.4" r="4.95"/>
<circle cx="936.9" cy="666.2" r="4.95"/>
<circle cx="925.0" cy="655.0" r="4.95"/>
<circle cx="926.0" cy="662.0" r="4.95"/>
<circle cx="959.8" cy="602.0" r="4.95"/>
<circle cx="965.0" cy="607.5" r="4.95"/>
<circle cx="965.0" cy="617.5" r="4.95"/>
<circle cx="957.5" cy="620.6" r="4.95"/>
<circle cx="956.2" cy="628.8" r="4.95"/>
<circle cx="948.8" cy="634.4" r="4.95"/>
<circle cx="965.0" cy="634.4" r="4.95"/>
<circle cx="956.9" cy="647.0" r="4.95"/>
<circle cx="965.0" cy="653.0" r="4.95"/>
<circle cx="968.8" cy="655.0" r="4.95"/>
<circle cx="952.5" cy="659.4" r="4.95"/>
<circle cx="948.1" cy="664.4" r="4.95"/>
<circle cx="956.2" cy="666.2" r="4.95"/>
<circle cx="965.0" cy="666.2" r="4.95"/>
<circle cx="973.8" cy="663.0" r="4.95"/>
<circle cx="960.0" cy="657.0" r="4.95"/>
<circle cx="957.0" cy="661.0" r="4.95"/>
<circle cx="965.0" cy="463.0" r="4.95"/>
<circle cx="965.0" cy="568.0" r="4.95"/>
<circle cx="999.5" cy="557.0" r="4.95"/>
<circle cx="1005.0" cy="633.8" r="4.95"/>
<circle cx="998.8" cy="640.0" r="4.95"/>
<circle cx="997.5" cy="645.0" r="4.95"/>
<circle cx="1000.0" cy="652.5" r="4.95"/>
<circle cx="992.5" cy="663.8" r="4.95"/>
<circle cx="1000.0" cy="666.2" r="4.95"/>
<circle cx="999.0" cy="659.0" r="4.95"/>
<circle cx="1013.2" cy="85.0" r="4.95"/>
<circle cx="1013.2" cy="447.5" r="4.95"/>
<circle cx="1013.2" cy="515.5" r="4.95"/>
<circle cx="1013.2" cy="581.2" r="4.95"/>
<circle cx="1013.2" cy="586.2" r="4.95"/>
<circle cx="1018.1" cy="660.0" r="4.95"/>
<circle cx="1031.2" cy="665.6" r="4.95"/>
<circle cx="1049.0" cy="569.0" r="4.95"/>
<circle cx="1050.5" cy="593.0" r="4.95"/>
<circle cx="1048.8" cy="638.8" r="4.95"/>
<circle cx="1048.8" cy="655.6" r="4.95"/>
<circle cx="1046.9" cy="663.8" r="4.95"/>
<circle cx="1051.2" cy="665.0" r="4.95"/>
<circle cx="1062.5" cy="663.8" r="4.95"/>
<circle cx="1088.8" cy="633.8" r="4.95"/>
<circle cx="1095.0" cy="650.6" r="4.95"/>
<circle cx="1087.5" cy="656.2" r="4.95"/>
<circle cx="1092.5" cy="658.8" r="4.95"/>
<circle cx="1088.8" cy="665.0" r="4.95"/>
<circle cx="1115.4" cy="612.2" r="4.95"/>
<circle cx="1116.9" cy="640.6" r="4.95"/>
<circle cx="1121.2" cy="648.0" r="4.95"/>
<circle cx="1115.0" cy="651.2" r="4.95"/>
<circle cx="1123.8" cy="656.2" r="4.95"/>
<circle cx="1112.5" cy="660.0" r="4.95"/>
<circle cx="1100.0" cy="665.5" r="4.95"/>
<circle cx="1106.0" cy="665.0" r="4.95"/>
<circle cx="1111.0" cy="666.0" r="4.95"/>
<circle cx="1117.5" cy="666.0" r="4.95"/>
<circle cx="1123.8" cy="665.5" r="4.95"/>
<circle cx="1118.0" cy="658.0" r="4.95"/>
<circle cx="1134.4" cy="664.4" r="4.95"/>
<circle cx="1148.8" cy="655.0" r="4.95"/>
<circle cx="1146.2" cy="665.0" r="4.95"/>
<circle cx="1150.5" cy="665.0" r="4.95"/>
<circle cx="1182.5" cy="622.0" r="4.95"/>
<circle cx="1181.2" cy="635.6" r="4.95"/>
<circle cx="1181.2" cy="647.5" r="4.95"/>
<circle cx="1181.2" cy="656.2" r="4.95"/>
<circle cx="1176.9" cy="662.0" r="4.95"/>
<circle cx="1181.2" cy="665.0" r="4.95"/>
<circle cx="1191.2" cy="658.0" r="4.95"/>
<circle cx="1192.5" cy="664.4" r="4.95"/>
<circle cx="1197.5" cy="661.2" r="4.95"/>
<circle cx="1202.5" cy="665.6" r="4.95"/>
<circle cx="1204.4" cy="636.2" r="4.95"/>
<circle cx="1206.2" cy="651.2" r="4.95"/>
<circle cx="1213.1" cy="665.0" r="4.95"/>
<circle cx="1213.8" cy="667.5" r="4.95"/>
<circle cx="1231.2" cy="635.6" r="4.95"/>
<circle cx="1231.2" cy="641.2" r="4.95"/>
<circle cx="1225.0" cy="656.2" r="4.95"/>
<circle cx="1231.2" cy="652.5" r="4.95"/>
<circle cx="1230.0" cy="661.2" r="4.95"/>
<circle cx="1235.0" cy="662.0" r="4.95"/>
<circle cx="1233.2" cy="584.2" r="4.95"/>
<circle cx="1245.0" cy="274.5" r="4.95"/>
<circle cx="1245.0" cy="490.8" r="4.95"/>
<circle cx="1245.0" cy="575.0" r="4.95"/>
<circle cx="1245.0" cy="598.8" r="4.95"/>
<circle cx="1245.0" cy="626.2" r="4.95"/>
<circle cx="1245.0" cy="637.0" r="4.95"/>
<circle cx="1245.0" cy="645.0" r="4.95"/>
<circle cx="1245.0" cy="656.2" r="4.95"/>
<circle cx="1250.0" cy="656.2" r="4.95"/>
<circle cx="1241.2" cy="663.8" r="4.95"/>
<circle cx="1246.2" cy="664.4" r="4.95"/>
<circle cx="1261.6" cy="652.0" r="4.95"/>
<circle cx="1257.5" cy="666.2" r="4.95"/>
<circle cx="1263.8" cy="665.0" r="4.95"/>
<circle cx="1268.8" cy="661.2" r="4.95"/>
<circle cx="1270.0" cy="667.0" r="4.95"/>
<circle cx="1276.2" cy="665.0" r="4.95"/>
<circle cx="1283.8" cy="645.6" r="4.95"/>
<circle cx="1283.8" cy="657.5" r="4.95"/>
<circle cx="1282.5" cy="665.0" r="4.95"/>
<circle cx="1288.8" cy="665.0" r="4.95"/>
<circle cx="1295.0" cy="656.2" r="4.95"/>
<circle cx="1297.5" cy="643.0" r="4.95"/>
<circle cx="1297.5" cy="663.8" r="4.95"/>
<circle cx="1306.2" cy="638.0" r="4.95"/>
<circle cx="1310.6" cy="618.0" r="4.95"/>
<circle cx="1311.2" cy="645.0" r="4.95"/>
<circle cx="1306.2" cy="657.5" r="4.95"/>
<circle cx="1310.6" cy="656.2" r="4.95"/>
<circle cx="1310.0" cy="665.0" r="4.95"/>
<circle cx="1303.0" cy="664.0" r="4.95"/>
<circle cx="1319.2" cy="553.0" r="4.95"/>
<circle cx="1323.5" cy="622.0" r="4.95"/>
<circle cx="1319.4" cy="636.2" r="4.95"/>
<circle cx="1319.4" cy="645.0" r="4.95"/>
<circle cx="1317.5" cy="653.8" r="4.95"/>
<circle cx="1317.5" cy="661.2" r="4.95"/>
<circle cx="1320.0" cy="667.0" r="4.95"/>
<circle cx="1331.2" cy="612.0" r="4.95"/>
<circle cx="1339.4" cy="615.0" r="4.95"/>
<circle cx="1338.8" cy="630.0" r="4.95"/>
<circle cx="1342.5" cy="633.0" r="4.95"/>
<circle cx="1341.2" cy="638.0" r="4.95"/>
<circle cx="1341.2" cy="647.5" r="4.95"/>
<circle cx="1342.0" cy="585.8" r="4.95"/>
<circle cx="1353.8" cy="419.0" r="4.95"/>
<circle cx="1353.8" cy="621.2" r="4.95"/>
<circle cx="1351.0" cy="658.0" r="4.95"/>
<circle cx="1356.0" cy="663.0" r="4.95"/>
<circle cx="1370.5" cy="467.5" r="4.95"/>
<circle cx="1372.2" cy="613.5" r="4.95"/>
<circle cx="1370.0" cy="639.4" r="4.95"/>
<circle cx="1375.0" cy="638.8" r="4.95"/>
<circle cx="1362.5" cy="665.0" r="4.95"/>
<circle cx="1367.0" cy="666.0" r="4.95"/>
<circle cx="1378.8" cy="663.8" r="4.95"/>
<circle cx="1386.6" cy="605.6" r="4.95"/>
<circle cx="1386.6" cy="613.0" r="4.95"/>
<circle cx="1386.0" cy="628.8" r="4.95"/>
<circle cx="1386.9" cy="653.8" r="4.95"/>
<circle cx="1385.0" cy="663.8" r="4.95"/>
<circle cx="1390.0" cy="665.0" r="4.95"/>
<circle cx="1395.0" cy="663.8" r="4.95"/>
<circle cx="1399.0" cy="665.0" r="4.95"/>
<circle cx="1394.2" cy="568.0" r="4.95"/>
<circle cx="1417.2" cy="570.0" r="4.95"/>
<circle cx="1441.5" cy="498.2" r="4.95"/>
<circle cx="1405.0" cy="653.8" r="4.95"/>
<circle cx="1404.4" cy="663.8" r="4.95"/>
<circle cx="1417.5" cy="646.2" r="4.95"/>
<circle cx="1416.2" cy="655.0" r="4.95"/>
<circle cx="1426.9" cy="656.2" r="4.95"/>
<circle cx="1415.0" cy="665.0" r="4.95"/>
<circle cx="1421.2" cy="665.0" r="4.95"/>
<circle cx="1427.5" cy="665.0" r="4.95"/>
<circle cx="1441.9" cy="655.6" r="4.95"/>
<circle cx="1437.5" cy="662.5" r="4.95"/>
<circle cx="1443.8" cy="663.8" r="4.95"/>
<circle cx="1450.0" cy="665.0" r="4.95"/>
<circle cx="1456.2" cy="660.0" r="4.95"/>
<circle cx="1462.5" cy="660.6" r="4.95"/>
<circle cx="1466.2" cy="665.0" r="4.95"/>
<circle cx="1473.1" cy="634.4" r="4.95"/>
<circle cx="1475.0" cy="657.5" r="4.95"/>
<circle cx="1472.5" cy="665.6" r="4.95"/>
<circle cx="1486.8" cy="503.8" r="4.95"/>
<circle cx="1487.1" cy="637.5" r="4.95"/>
<circle cx="1491.9" cy="644.4" r="4.95"/>
<circle cx="1486.9" cy="652.0" r="4.95"/>
<circle cx="1485.0" cy="661.2" r="4.95"/>
<circle cx="1492.5" cy="665.0" r="4.95"/>
<circle cx="1480.0" cy="665.0" r="4.95"/>
<circle cx="1506.9" cy="663.0" r="4.95"/>
<circle cx="1523.5" cy="623.8" r="4.95"/>
<circle cx="1519.4" cy="658.0" r="4.95"/>
<circle cx="1520.0" cy="665.0" r="4.95"/>
<circle cx="1530.0" cy="662.5" r="4.95"/>
<circle cx="1537.5" cy="643.0" r="4.95"/>
<circle cx="1544.8" cy="650.6" r="4.95"/>
<circle cx="1537.5" cy="666.2" r="4.95"/>
<circle cx="1557.5" cy="548.2" r="4.95"/>
<circle cx="1557.8" cy="638.8" r="4.95"/>
<circle cx="1557.5" cy="652.0" r="4.95"/>
<circle cx="1557.5" cy="663.8" r="4.95"/>
<circle cx="1562.5" cy="663.8" r="4.95"/>
<circle cx="1571.0" cy="655.0" r="4.95"/>
<circle cx="1570.6" cy="665.0" r="4.95"/>
<circle cx="1581.5" cy="635.6" r="4.95"/>
<circle cx="1583.8" cy="666.2" r="4.95"/>
<circle cx="1590.0" cy="663.8" r="4.95"/>
<circle cx="1589.8" cy="581.0" r="4.95"/>
<circle cx="1609.0" cy="623.0" r="4.95"/>
<circle cx="1609.0" cy="655.0" r="4.95"/>
<circle cx="1608.8" cy="666.2" r="4.95"/>
<circle cx="1620.6" cy="638.0" r="4.95"/>
<circle cx="1618.1" cy="657.5" r="4.95"/>
<circle cx="1620.0" cy="666.2" r="4.95"/>
<circle cx="1632.5" cy="637.8" r="4.95"/>
<circle cx="1628.8" cy="653.0" r="4.95"/>
<circle cx="1631.2" cy="665.0" r="4.95"/>
<circle cx="1641.9" cy="631.5" r="4.95"/>
<circle cx="1644.4" cy="652.8" r="4.95"/>
<circle cx="1642.5" cy="664.4" r="4.95"/>
<circle cx="1652.5" cy="655.0" r="4.95"/>
<circle cx="1652.5" cy="665.0" r="4.95"/>
<circle cx="1665.6" cy="615.0" r="4.95"/>
<circle cx="1665.6" cy="623.0" r="4.95"/>
<circle cx="1665.6" cy="632.5" r="4.95"/>
<circle cx="1666.2" cy="640.0" r="4.95"/>
<circle cx="1675.6" cy="644.4" r="4.95"/>
<circle cx="1685.6" cy="643.8" r="4.95"/>
<circle cx="1665.0" cy="652.5" r="4.95"/>
<circle cx="1675.0" cy="657.5" r="4.95"/>
<circle cx="1660.0" cy="657.5" r="4.95"/>
<circle cx="1663.8" cy="666.2" r="4.95"/>
<circle cx="1675.0" cy="665.0" r="4.95"/>
<circle cx="1647.0" cy="666.0" r="4.95"/>
<circle cx="1690.9" cy="609.4" r="4.95"/>
<circle cx="1696.0" cy="531.8" r="4.95"/>
<circle cx="1695.0" cy="640.6" r="4.95"/>
<circle cx="1696.2" cy="650.0" r="4.95"/>
<circle cx="1690.0" cy="658.8" r="4.95"/>
<circle cx="1717.0" cy="568.8" r="4.95"/>
<circle cx="1716.9" cy="614.4" r="4.95"/>
<circle cx="1726.2" cy="583.8" r="4.95"/>
<circle cx="1709.4" cy="642.0" r="4.95"/>
<circle cx="1724.0" cy="636.2" r="4.95"/>
<circle cx="1720.0" cy="641.2" r="4.95"/>
<circle cx="1715.0" cy="647.5" r="4.95"/>
<circle cx="1727.5" cy="647.5" r="4.95"/>
<circle cx="1732.5" cy="651.2" r="4.95"/>
<circle cx="1750.8" cy="531.2" r="4.95"/>
<circle cx="1750.9" cy="629.4" r="4.95"/>
<circle cx="1748.1" cy="652.0" r="4.95"/>
<circle cx="1753.1" cy="660.0" r="4.95"/>
<circle cx="1747.5" cy="665.0" r="4.95"/>
<circle cx="1767.5" cy="659.4" r="4.95"/>
<circle cx="1765.0" cy="666.2" r="4.95"/>
<circle cx="1772.5" cy="665.0" r="4.95"/>
<circle cx="1776.9" cy="653.8" r="4.95"/>
<circle cx="1791.6" cy="617.0" r="4.95"/>
<circle cx="1791.9" cy="647.5" r="4.95"/>
<circle cx="1793.1" cy="656.2" r="4.95"/>
<circle cx="1790.0" cy="662.5" r="4.95"/>
<circle cx="1803.8" cy="652.5" r="4.95"/>
<circle cx="1803.1" cy="665.0" r="4.95"/>
<circle cx="1812.5" cy="478.2" r="4.95"/>
<circle cx="1813.1" cy="642.5" r="4.95"/>
<circle cx="1813.1" cy="653.8" r="4.95"/>
<circle cx="1812.5" cy="661.2" r="4.95"/>
<circle cx="1820.6" cy="660.6" r="4.95"/>
<circle cx="1821.2" cy="667.5" r="4.95"/>
<circle cx="1838.1" cy="595.6" r="4.95"/>
<circle cx="1836.8" cy="597.2" r="4.95"/>
<circle cx="1835.0" cy="640.0" r="4.95"/>
<circle cx="1835.0" cy="660.0" r="4.95"/>
<circle cx="1842.0" cy="650.0" r="4.95"/>
<circle cx="1854.4" cy="628.0" r="4.95"/>
<circle cx="1857.5" cy="635.6" r="4.95"/>
<circle cx="1850.6" cy="655.0" r="4.95"/>
<circle cx="1850.0" cy="665.0" r="4.95"/>
<circle cx="1851.0" cy="660.0" r="4.95"/>
<circle cx="1865.0" cy="667.0" r="4.95"/>
<circle cx="1887.5" cy="574.5" r="4.95"/>
<circle cx="1887.5" cy="643.0" r="4.95"/>
<circle cx="1883.8" cy="648.8" r="4.95"/>
<circle cx="1879.4" cy="653.8" r="4.95"/>
<circle cx="1885.0" cy="664.4" r="4.95"/>
<circle cx="1884.0" cy="658.0" r="4.95"/>
<circle cx="1895.8" cy="410.8" r="4.95"/>
<circle cx="1902.0" cy="570.8" r="4.95"/>
<circle cx="1895.6" cy="636.5" r="4.95"/>
<circle cx="1902.5" cy="648.0" r="4.95"/>
<circle cx="1913.1" cy="645.0" r="4.95"/>
<circle cx="1908.8" cy="650.0" r="4.95"/>
<circle cx="283.1" cy="637.0" r="4.95"/>
<circle cx="283.1" cy="642.0" r="4.95"/>
<circle cx="283.1" cy="647.0" r="4.95"/>
<circle cx="283.1" cy="652.0" r="4.95"/>
<circle cx="283.1" cy="657.0" r="4.95"/>
<circle cx="283.1" cy="662.0" r="4.95"/>
<circle cx="283.1" cy="667.0" r="4.95"/>
<circle cx="340.6" cy="632.0" r="4.95"/>
<circle cx="340.6" cy="636.6" r="4.95"/>
<circle cx="340.6" cy="641.2" r="4.95"/>
<circle cx="340.6" cy="645.8" r="4.95"/>
<circle cx="340.6" cy="650.4" r="4.95"/>
<circle cx="340.6" cy="655.0" r="4.95"/>
<circle cx="340.6" cy="659.6" r="4.95"/>
<circle cx="340.6" cy="664.2" r="4.95"/>
<circle cx="375.0" cy="631.0" r="4.95"/>
<circle cx="375.0" cy="635.6" r="4.95"/>
<circle cx="375.0" cy="640.2" r="4.95"/>
<circle cx="375.0" cy="644.8" r="4.95"/>
<circle cx="375.0" cy="649.4" r="4.95"/>
<circle cx="375.0" cy="654.0" r="4.95"/>
<circle cx="375.0" cy="658.6" r="4.95"/>
<circle cx="375.0" cy="663.2" r="4.95"/>
<circle cx="574.8" cy="632.0" r="4.95"/>
<circle cx="574.8" cy="636.6" r="4.95"/>
<circle cx="574.8" cy="641.2" r="4.95"/>
<circle cx="574.8" cy="645.8" r="4.95"/>
<circle cx="574.8" cy="650.4" r="4.95"/>
<circle cx="574.8" cy="655.0" r="4.95"/>
<circle cx="574.8" cy="659.6" r="4.95"/>
<circle cx="906.0" cy="640.0" r="4.95"/>
<circle cx="906.0" cy="644.6" r="4.95"/>
<circle cx="906.0" cy="649.2" r="4.95"/>
<circle cx="906.0" cy="653.8" r="4.95"/>
<circle cx="906.0" cy="658.4" r="4.95"/>
<circle cx="906.0" cy="663.0" r="4.95"/>
<circle cx="920.0" cy="641.0" r="4.95"/>
<circle cx="920.0" cy="645.6" r="4.95"/>
<circle cx="920.0" cy="650.2" r="4.95"/>
<circle cx="920.0" cy="654.8" r="4.95"/>
<circle cx="920.0" cy="659.4" r="4.95"/>
<circle cx="920.0" cy="664.0" r="4.95"/>
<circle cx="1013.1" cy="596.0" r="4.95"/>
<circle cx="1013.1" cy="600.6" r="4.95"/>
<circle cx="1013.1" cy="605.2" r="4.95"/>
<circle cx="1013.1" cy="609.8" r="4.95"/>
<circle cx="1013.1" cy="614.4" r="4.95"/>
<circle cx="1013.1" cy="619.0" r="4.95"/>
<circle cx="1013.1" cy="623.6" r="4.95"/>
<circle cx="1013.1" cy="628.2" r="4.95"/>
<circle cx="1013.1" cy="632.8" r="4.95"/>
<circle cx="1013.1" cy="637.4" r="4.95"/>
<circle cx="1013.1" cy="642.0" r="4.95"/>
<circle cx="1013.1" cy="646.6" r="4.95"/>
<circle cx="1013.1" cy="651.2" r="4.95"/>
<circle cx="1013.1" cy="655.8" r="4.95"/>
<circle cx="1013.1" cy="660.4" r="4.95"/>
<circle cx="1013.1" cy="665.0" r="4.95"/>
<circle cx="1353.8" cy="650.0" r="4.95"/>
<circle cx="1353.8" cy="654.6" r="4.95"/>
<circle cx="1353.8" cy="659.2" r="4.95"/>
<circle cx="1353.8" cy="663.8" r="4.95"/>
<circle cx="1372.5" cy="642.0" r="4.95"/>
<circle cx="1372.5" cy="646.6" r="4.95"/>
<circle cx="1372.5" cy="651.2" r="4.95"/>
<circle cx="1372.5" cy="655.8" r="4.95"/>
<circle cx="1372.5" cy="660.4" r="4.95"/>
<circle cx="1372.5" cy="665.0" r="4.95"/>
<circle cx="1838.8" cy="615.0" r="4.95"/>
<circle cx="1838.8" cy="619.6" r="4.95"/>
<circle cx="1838.8" cy="624.2" r="4.95"/>
<circle cx="1838.8" cy="628.8" r="4.95"/>
<circle cx="1838.8" cy="633.4" r="4.95"/>
<circle cx="1838.8" cy="638.0" r="4.95"/>
<circle cx="1838.8" cy="642.6" r="4.95"/>
<circle cx="1838.8" cy="647.2" r="4.95"/>
<circle cx="1838.8" cy="651.8" r="4.95"/>
<circle cx="1838.8" cy="656.4" r="4.95"/>
<circle cx="1838.8" cy="661.0" r="4.95"/>
<circle cx="1838.8" cy="665.6" r="4.95"/>
<circle cx="1327.0" cy="654.4" r="4.95"/>
<circle cx="1329.2" cy="659.4" r="4.95"/>
<circle cx="1327.0" cy="664.9" r="4.95"/>
<circle cx="1332.0" cy="655.8" r="4.95"/>
<circle cx="1334.2" cy="660.8" r="4.95"/>
<circle cx="1332.0" cy="666.3" r="4.95"/>
<circle cx="1337.0" cy="654.4" r="4.95"/>
<circle cx="1339.2" cy="659.4" r="4.95"/>
<circle cx="1337.0" cy="664.9" r="4.95"/>
<circle cx="1342.0" cy="655.8" r="4.95"/>
<circle cx="1344.2" cy="660.8" r="4.95"/>
<circle cx="1342.0" cy="666.3" r="4.95"/>
<circle cx="1688.0" cy="655.4" r="4.95"/>
<circle cx="1690.2" cy="660.4" r="4.95"/>
<circle cx="1688.0" cy="665.4" r="4.95"/>
<circle cx="1693.0" cy="656.8" r="4.95"/>
<circle cx="1695.2" cy="661.8" r="4.95"/>
<circle cx="1693.0" cy="666.8" r="4.95"/>
<circle cx="1698.0" cy="655.4" r="4.95"/>
<circle cx="1700.2" cy="660.4" r="4.95"/>
<circle cx="1698.0" cy="665.4" r="4.95"/>
<circle cx="1703.0" cy="656.8" r="4.95"/>
<circle cx="1705.2" cy="661.8" r="4.95"/>
<circle cx="1703.0" cy="666.8" r="4.95"/>
<circle cx="1708.0" cy="655.4" r="4.95"/>
<circle cx="1710.2" cy="660.4" r="4.95"/>
<circle cx="1708.0" cy="665.4" r="4.95"/>
<circle cx="1713.0" cy="656.8" r="4.95"/>
<circle cx="1715.2" cy="661.8" r="4.95"/>
<circle cx="1713.0" cy="666.8" r="4.95"/>
<circle cx="1718.0" cy="655.4" r="4.95"/>
<circle cx="1720.2" cy="660.4" r="4.95"/>
<circle cx="1718.0" cy="665.4" r="4.95"/>
<circle cx="1723.0" cy="656.8" r="4.95"/>
<circle cx="1725.2" cy="661.8" r="4.95"/>
<circle cx="1723.0" cy="666.8" r="4.95"/>
<circle cx="1728.0" cy="655.4" r="4.95"/>
<circle cx="1730.2" cy="660.4" r="4.95"/>
<circle cx="1728.0" cy="665.4" r="4.95"/>
<circle cx="1733.0" cy="656.8" r="4.95"/>
<circle cx="1735.2" cy="661.8" r="4.95"/>
<circle cx="1733.0" cy="666.8" r="4.95"/>
<circle cx="1893.0" cy="657.4" r="4.95"/>
<circle cx="1895.2" cy="662.4" r="4.95"/>
<circle cx="1893.0" cy="666.9" r="4.95"/>
<circle cx="1898.0" cy="658.8" r="4.95"/>
<circle cx="1900.2" cy="663.8" r="4.95"/>
<circle cx="1898.0" cy="668.3" r="4.95"/>
<circle cx="1903.0" cy="657.4" r="4.95"/>
<circle cx="1905.2" cy="662.4" r="4.95"/>
<circle cx="1903.0" cy="666.9" r="4.95"/>
<circle cx="1908.0" cy="658.8" r="4.95"/>
<circle cx="1910.2" cy="663.8" r="4.95"/>
<circle cx="1908.0" cy="668.3" r="4.95"/>
<circle cx="1913.0" cy="657.4" r="4.95"/>
<circle cx="1915.2" cy="662.4" r="4.95"/>
<circle cx="1913.0" cy="666.9" r="4.95"/>
</g>
</svg></body></html>
